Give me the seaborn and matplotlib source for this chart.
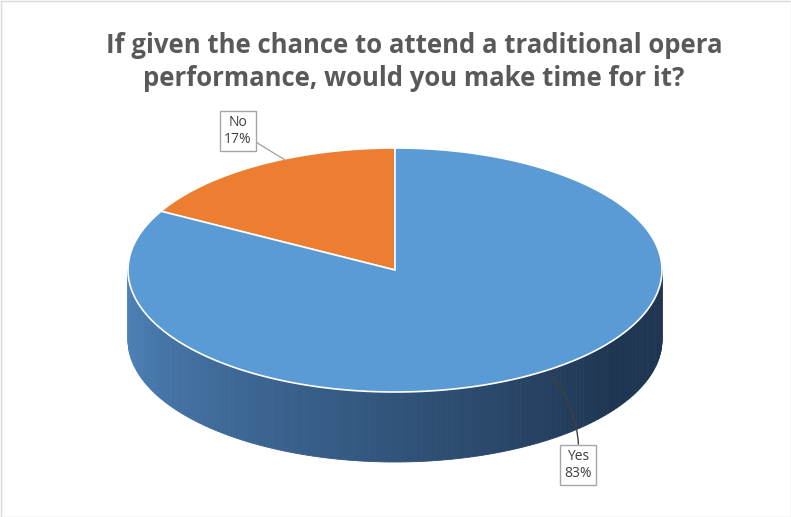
import numpy as np
import matplotlib
matplotlib.use("Agg")
import matplotlib.pyplot as plt
from matplotlib.patches import Polygon, Rectangle
import seaborn as sns

categories = ["Yes", "No"]
values = [83, 17]
labels = ["Yes\n83%", "No\n17%"]
title = "If given the chance to attend a traditional opera\nperformance, would you make time for it?"

sns.set_theme(style="white")
plt.rcParams['font.family'] = ['Open Sans', 'DejaVu Sans']

fig = plt.figure(figsize=(7.91, 5.17), dpi=100)
ax = fig.add_axes([0, 0, 1, 1])
ax.set_xlim(0, 791); ax.set_ylim(517, 0); ax.axis("off")

cx, cy, a, b, depth = 395, 270, 267, 122, 70
blue, orange = "#5b9bd5", "#ed7d31"

def pt(t, dy=0):
    return cx + a*np.cos(t), cy - b*np.sin(t) + dy

# side of the pie (front half), smooth gradient strips
n = 160
ts = np.linspace(np.pi, 2*np.pi, n+1)
c0 = np.array([0x4f, 0x85, 0xbd])/255
c1 = np.array([0x1f, 0x36, 0x52])/255
for i in range(n):
    t0, t1 = ts[i], ts[i+1]
    f = min(1.0, (i/n)/0.8)
    col = c0*(1-f)+c1*f
    p = [pt(t0), pt(t1), pt(t1, depth), pt(t0, depth)]
    ax.add_patch(Polygon(p, closed=True, fc=col, ec=col, lw=0.6))

fr = np.array(values)/sum(values)
start = np.pi/2
t_no = start + 2*np.pi*fr[1]
tt = np.linspace(start, t_no, 60)
ax.add_patch(Polygon([(cx, cy)] + [pt(t) for t in tt], closed=True, fc=orange, ec="white", lw=1.2))
tt = np.linspace(t_no, start + 2*np.pi, 300)
ax.add_patch(Polygon([(cx, cy)] + [pt(t) for t in tt], closed=True, fc=blue, ec="white", lw=1.2))

box = dict(boxstyle="square,pad=0.3", fc="white", ec="#a6a6a6", lw=1)
ax.annotate(labels[1], xy=(285, 160), xytext=(238, 131), ha="center", va="center",
            fontsize=10, color="#404040", bbox=box,
            arrowprops=dict(arrowstyle="-", color="#a6a6a6", lw=1, shrinkA=0, shrinkB=0))
ax.annotate(labels[0], xy=(552, 376), xytext=(578, 465), ha="center", va="center",
            fontsize=10, color="#404040", bbox=box,
            arrowprops=dict(arrowstyle="-", color="#404040", lw=1, shrinkA=0, shrinkB=0,
                            connectionstyle="arc3,rad=0.2"))

ax.text(414, 62, title, ha="center", va="center", fontsize=18.5, fontweight="bold",
        color="#595959", linespacing=1.25)
ax.add_patch(Rectangle((0.5, 0.5), 790, 516, fill=False, ec="#d9d9d9", lw=1))
fig.savefig("out.png", dpi=100)
